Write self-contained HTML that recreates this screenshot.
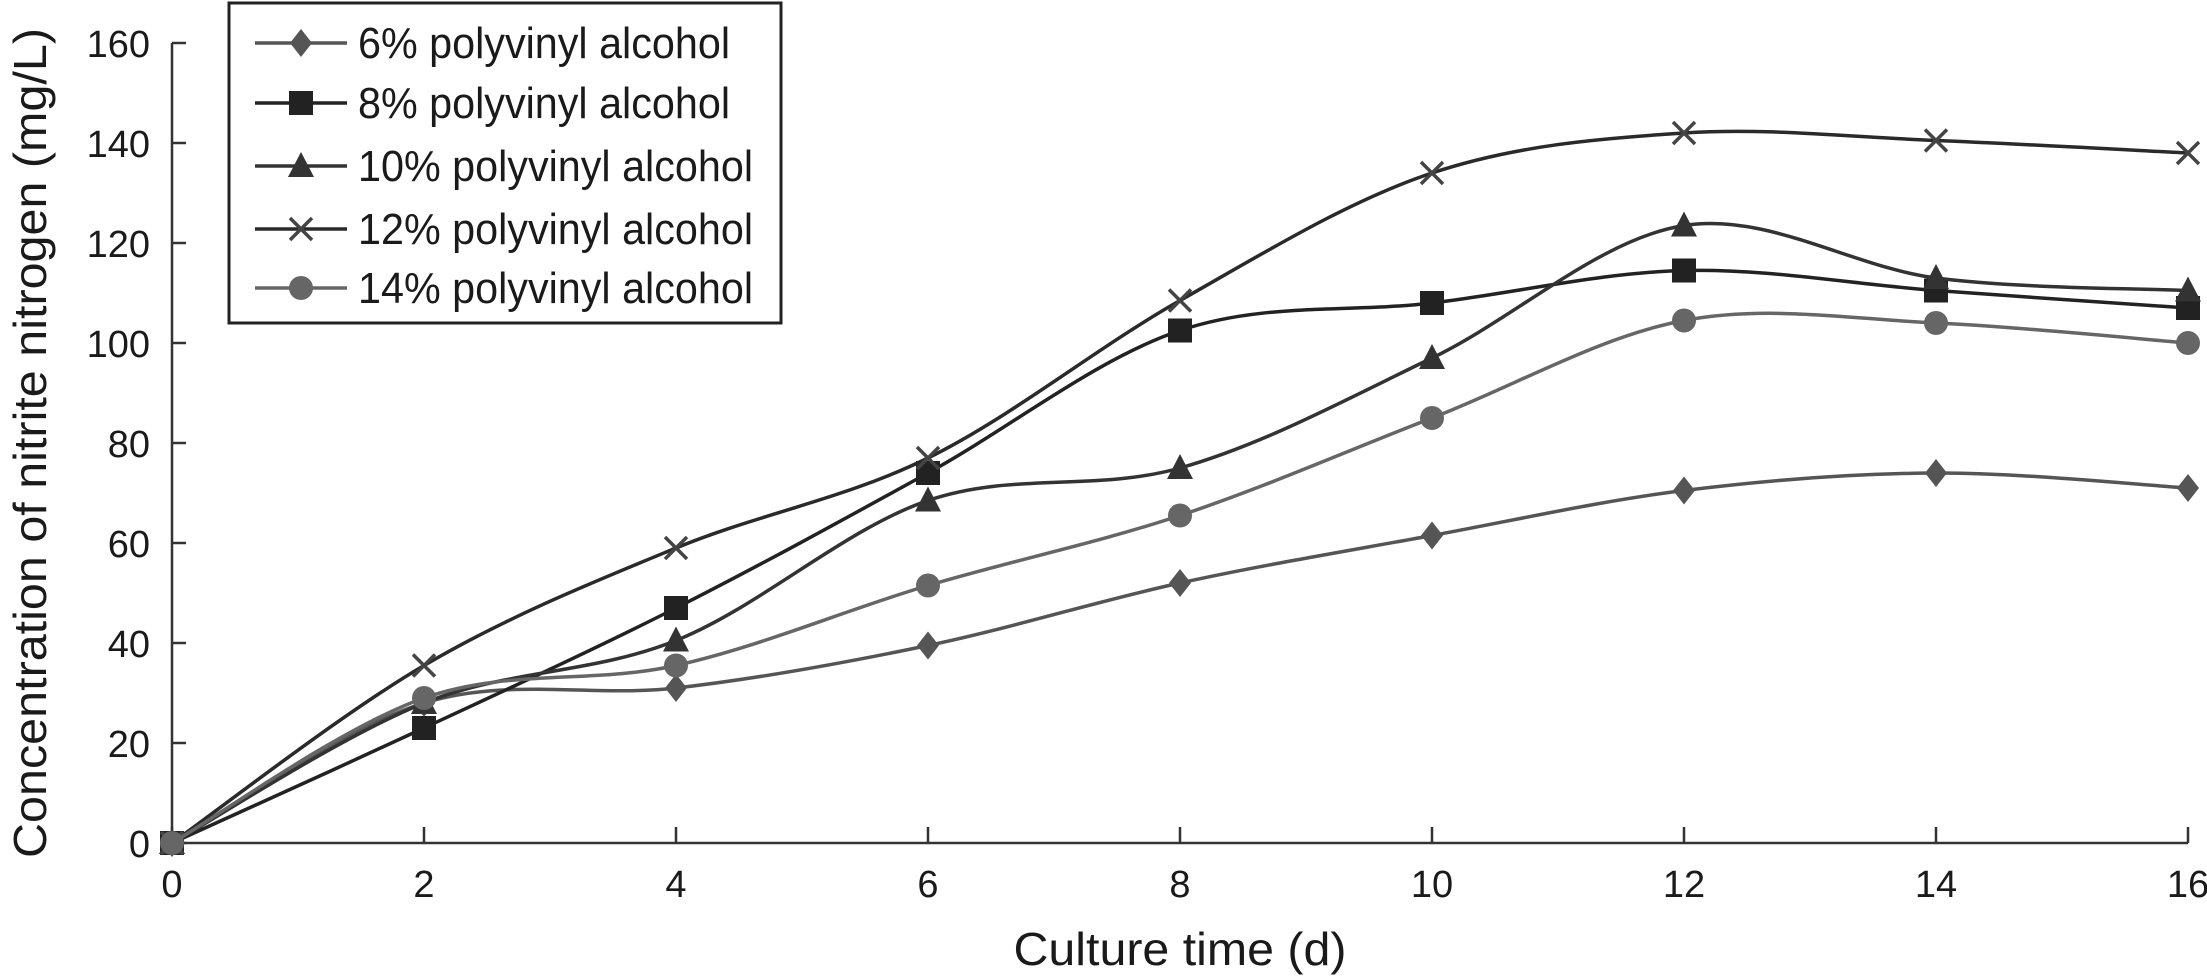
<!DOCTYPE html>
<html><head><meta charset="utf-8"><style>
html,body{margin:0;padding:0;background:#fff;}
svg{display:block;font-family:"Liberation Sans",sans-serif;}
</style></head><body>
<svg id="chart" width="2207" height="979" viewBox="0 0 2207 979" xmlns="http://www.w3.org/2000/svg">
<g id="axes"></g><g id="series"></g><g id="legend"></g>
</svg>
<script>
const days = [0, 2, 4, 6, 8, 10, 12, 14, 16];
const pva6 = [0, 28, 31, 39.5, 52, 61.5, 70.5, 74, 71];
const pva8 = [0, 23, 47, 74, 102.5, 108, 114.5, 110.5, 107];
const pva10 = [0, 28, 40.5, 68.5, 75, 97, 123.5, 113, 110.5];
const pva12 = [0, 35.5, 59, 77, 108.5, 134, 142, 140.5, 138];
const pva14 = [0, 29, 35.5, 51.5, 65.5, 85, 104.5, 104, 100];
const yTicks = [0, 20, 40, 60, 80, 100, 120, 140, 160];
const xTicks = [0, 2, 4, 6, 8, 10, 12, 14, 16];
const seriesNames = ["6% polyvinyl alcohol","8% polyvinyl alcohol","10% polyvinyl alcohol","12% polyvinyl alcohol","14% polyvinyl alcohol"];

const NS = "http://www.w3.org/2000/svg";
const X0 = 172, X1 = 2188, Y0 = 843, Y1 = 43;
function xs(v){ return X0 + (v - 0) / 16 * (X1 - X0); }
function ys(v){ return Y0 - (v - 0) / 160 * (Y0 - Y1); }
function mk(tag, attrs, parent){ const e = document.createElementNS(NS, tag); for (const k in attrs) e.setAttribute(k, attrs[k]); parent.appendChild(e); return e; }

const axes = document.getElementById('axes');
const ax = mk('path', {d:`M${X0},${Y1} L${X0},${Y0} L${X1},${Y0}`, fill:'none', stroke:'#333', 'stroke-width':2.5}, axes);


yTicks.forEach(t => {
  const y = ys(t);
  const tk = mk('line', {x1:X0, x2:X0+14, y1:y, y2:y, stroke:'#333', 'stroke-width':2.5}, axes);
  
  
  const tx = mk('text', {x:150, y:y+14, 'text-anchor':'end', 'font-size':38, fill:'#1a1a1a'}, axes);
  tx.textContent = t;
  
  
});
xTicks.forEach(t => {
  const x = xs(t);
  const tk = mk('line', {x1:x, x2:x, y1:Y0, y2:Y0-16, stroke:'#333', 'stroke-width':2.5}, axes);
  
  
  const tx = mk('text', {x:x, y:897, 'text-anchor':'middle', 'font-size':38, fill:'#1a1a1a'}, axes);
  tx.textContent = t;
  
  
});
const xt = mk('text', {x:1180, y:965, 'text-anchor':'middle', 'font-size':46, fill:'#1a1a1a', textLength:333, lengthAdjust:'spacingAndGlyphs'}, axes);
xt.textContent = 'Culture time (d)';


const yt = mk('text', {x:0, y:0, 'text-anchor':'middle', 'font-size':46, fill:'#1a1a1a', textLength:830, lengthAdjust:'spacingAndGlyphs', transform:'translate(46,443) rotate(-90)'}, axes);
yt.textContent = 'Concentration of nitrite nitrogen (mg/L)';



function smoothPath(pts){
  let d = `M${pts[0][0]},${pts[0][1]}`;
  for (let i = 0; i < pts.length - 1; i++){
    const p0 = pts[i-1] || pts[i], p1 = pts[i], p2 = pts[i+1], p3 = pts[i+2] || p2;
    const t = 6;
    const c1 = [p1[0] + (p2[0]-p0[0])/t, p1[1] + (p2[1]-p0[1])/t];
    const c2 = [p2[0] - (p3[0]-p1[0])/t, p2[1] - (p3[1]-p1[1])/t];
    d += ` C${c1[0]},${c1[1]} ${c2[0]},${c2[1]} ${p2[0]},${p2[1]}`;
  }
  return d;
}
function marker(type, x, y, color, parent){
  let e;
  if (type === 'diamond') e = mk('polygon', {points:`${x},${y-14} ${x+11},${y} ${x},${y+14} ${x-11},${y}`, fill:color}, parent);
  else if (type === 'square') e = mk('rect', {x:x-12, y:y-12, width:24, height:24, fill:color}, parent);
  else if (type === 'triangle') e = mk('polygon', {points:`${x},${y-14} ${x+13},${y+11} ${x-13},${y+11}`, fill:color}, parent);
  else if (type === 'cross') e = mk('path', {d:`M${x-11},${y-11} L${x+11},${y+11} M${x-11},${y+11} L${x+11},${y-11}`, stroke:color, 'stroke-width':3.5, fill:'none'}, parent);
  else e = mk('circle', {cx:x, cy:y, r:12, fill:color}, parent);
  return e;
}
const allSeries = [pva6, pva8, pva10, pva12, pva14];
const markers = ['diamond','square','triangle','cross','circle'];
const lineColors = ['#555','#222','#333','#2a2a2a','#666'];
const markColors = ['#555','#222','#333','#444','#666'];
const sg = document.getElementById('series');
allSeries.forEach((vals, si) => {
  const g = mk('g', {}, sg);
  
  
  const pts = days.map((d, i) => [xs(d), ys(vals[i])]);
  const p = mk('path', {d:smoothPath(pts), fill:'none', stroke:lineColors[si], 'stroke-width':3.5}, g);
  
  
  pts.forEach(pt => {
    const m = marker(markers[si], pt[0], pt[1], markColors[si], g);
    
    
  });
});
const lg = document.getElementById('legend');


mk('rect', {x:229, y:3, width:552, height:320, fill:'#fff', stroke:'#222', 'stroke-width':3}, lg);
const rowY = [43, 103, 166, 229, 288];
seriesNames.forEach((n, i) => {
  const y = rowY[i];
  const l = mk('line', {x1:255, x2:347, y1:y, y2:y, stroke:lineColors[i], 'stroke-width':3.5}, lg);
  
  
  const m = marker(markers[i], 301, y, markColors[i], lg);
  
  
  const tx = mk('text', {x:358, y:y+15, 'font-size':44, fill:'#1a1a1a', textLength: i < 2 ? 372 : 395, lengthAdjust:'spacingAndGlyphs'}, lg);
  tx.textContent = n;
  
  
});
</script>
</body></html>
